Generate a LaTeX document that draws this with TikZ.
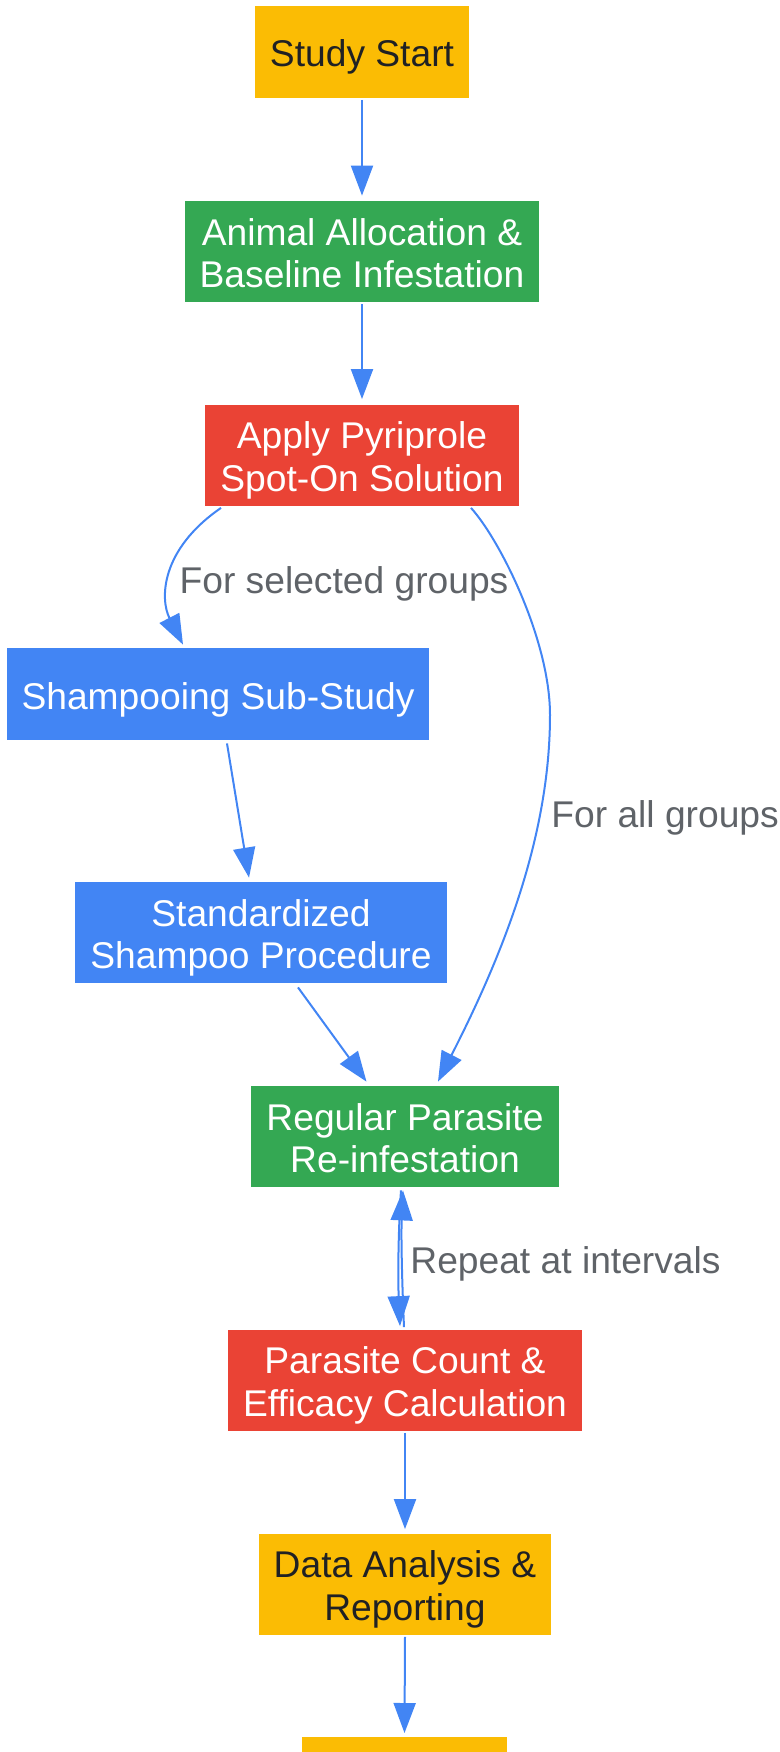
\documentclass[tikz,border=0pt]{standalone}
\usepackage{fontspec}
\setmainfont{Liberation Sans}
\usetikzlibrary{arrows.meta,calc,shapes}
\definecolor{gyellow}{HTML}{FBBC04}
\definecolor{ggreen}{HTML}{34A853}
\definecolor{gred}{HTML}{EA4335}
\definecolor{gblue}{HTML}{4285F4}
\definecolor{gtext}{HTML}{202124}
\definecolor{ggray}{HTML}{5F6368}
\newcommand{\hstrut}{\rule{0pt}{19pt}}
\newcommand{\dstrut}{\rule[-4pt]{0pt}{0pt}}

\begin{document}
\begin{tikzpicture}[x=0.5pt,y=-0.5pt,
    box/.style={rectangle, align=center, inner xsep=7.5pt, inner ysep=0pt, minimum height=46pt, font=\fontsize{18.6}{21.25}\selectfont},
    twoline/.style={minimum height=50.5pt},
    yellowbox/.style={box, fill=gyellow, text=gtext},
    greenbox/.style={box, fill=ggreen, text=white},
    redbox/.style={box, fill=gred, text=white},
    bluebox/.style={box, fill=gblue, text=white},
    flow/.style={draw=gblue, line width=1pt, -{Triangle[length=15pt,width=11pt]}},
    lbl/.style={text=ggray, inner sep=0pt, font=\fontsize{18.6}{21.25}\selectfont}]
        \useasboundingbox (0,0) rectangle (780,1752);

        % Main column of steps
        \node[yellowbox] (start) at (362,51.5) {\hstrut Study Start\dstrut};
        \node[greenbox,twoline] (alloc) at (362,251.5) {\hstrut Animal Allocation \&\\Baseline Infestation\dstrut};
        \node[redbox,twoline] (apply) at (362,455) {\hstrut Apply Pyriprole\\Spot-On Solution\dstrut};

        % Shampooing branch
        \node[bluebox] (shamp) at (218,694) {\hstrut Shampooing Sub-Study\dstrut};
        \node[bluebox,twoline] (std) at (261,932.5) {\hstrut Standardized\\Shampoo Procedure\dstrut};

        % Re-infestation and counting
        \node[greenbox,twoline] (reg) at (405,1136.5) {\hstrut Regular Parasite\\Re-infestation\dstrut};
        \node[redbox,twoline] (cnt) at (405,1380) {\hstrut Parasite Count \&\\Efficacy Calculation\dstrut};
        \node[yellowbox,twoline] (data) at (405,1584) {\hstrut Data Analysis \&\\Reporting\dstrut};
        \node[yellowbox,anchor=north,minimum width=102.5pt] (finish) at (404.5,1737) {};

        % Edge labels
        \node[lbl] (lblsel) at (344,583.5) {For selected groups};
        \node[lbl,anchor=west] (lblall) at (551,817.5) {For all groups};
        \node[lbl,anchor=west] (lblrep) at (410,1264) {Repeat at intervals};

        % Connectors
        \draw[flow] ($(start.south)+(0,2)$) -- ($(alloc.north)+(0,-5)$);
        \draw[flow] ($(alloc.south)+(0,2)$) -- ($(apply.north)+(0,-5)$);
        \draw[flow] ($(apply.south)+(-141,2)$) .. controls +(-61,42) and +(-23,-45) .. ($(shamp.north)+(-35,-3)$);
        \draw[flow] ($(apply.south)+(109,2)$) .. controls ($(apply.south)+(138,34)$) and (550,640) .. (550,715)
            .. controls (550,840) and (500,960) .. ($(reg.north)+(33,-4)$);
        \draw[flow] ($(shamp.south)+(9,3)$) -- ($(std.north)+(-12,-4)$);
        \draw[flow] ($(std.south)+(37,4)$) -- ($(reg.north)+(-38.5,-4)$);
        \draw[flow] ($(reg.south)+(-4,3)$) .. controls +(-3,45) and +(-2,-45) .. ($(cnt.north)+(-5,-3)$);
        \draw[flow] ($(cnt.north)+(-1,-2)$) .. controls +(-2,-45) and +(-2,45) .. ($(reg.south)+(-2,3)$);
        \draw[flow] ($(cnt.south)+(0,2)$) -- ($(data.north)+(0,-4)$);
        \draw[flow] ($(data.south)+(0,2)$) -- ($(finish.north)+(0,-4)$);
    \end{tikzpicture}
\end{document}
